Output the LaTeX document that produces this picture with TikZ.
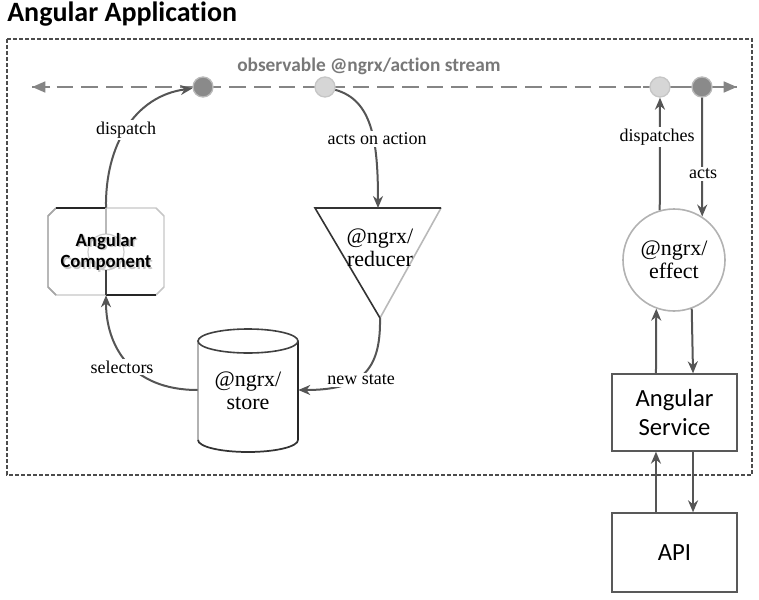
\documentclass[tikz,border=0pt]{standalone}
\usepackage{fontspec}
\setmainfont{Liberation Serif}
\newfontfamily\calfont[Ligatures=NoCommon]{Carlito}
\usetikzlibrary{arrows.meta}
\definecolor{arrowgray}{HTML}{555555}
\definecolor{streamgray}{HTML}{858585}
\definecolor{darkdot}{HTML}{8A8A8A}
\definecolor{lightdot}{HTML}{D6D6D6}
\begin{document}
\begin{tikzpicture}[x=0.75pt,y=-0.75pt,
  conn/.style={draw=arrowgray, line width=1.5pt, -{Stealth[length=9pt,width=7.5pt]}},
  elabel/.style={fill=white, inner sep=1.5pt, font=\fontsize{13.5}{15}\selectfont},
  nlabel/.style={align=center, font=\fontsize{16.5}{17.5}\selectfont},
  sanslabel/.style={align=center, font=\calfont\fontsize{18.5}{22}\selectfont},
  box/.style={draw=black!65, line width=1pt, minimum width=93.75pt, fill=white},
  dkdot/.style={circle, draw=gray!55, line width=1pt, fill=darkdot, minimum size=15pt, inner sep=0pt},
  ltdot/.style={circle, draw=gray!45, line width=1pt, fill=lightdot, minimum size=15pt, inner sep=0pt},
  stream/.style={draw=streamgray, line width=2pt},
  container/.style={draw=black!70, line width=1.2pt, dash pattern=on 3pt off 1.5pt}
]
\useasboundingbox (0,0) rectangle (759,599);

% title
\node[anchor=west, inner sep=0pt, font=\calfont\bfseries\fontsize{21}{25}\selectfont] (title) at (7,14.5) {Angular Applicat\kern0pt ion};

% container
\draw[container] (7,39) rectangle (752,475);

% stream
\coordinate (sL) at (32,87);
\coordinate (sR) at (737,87);
\draw[stream, dash pattern=on 12.5pt off 6pt] (sL) -- (sR);
\node[streamgray!90!black, anchor=center, inner sep=0pt, font=\calfont\bfseries\fontsize{14.5}{17}\selectfont] (slbl) at (369,66) {observable @ngrx/act\kern0pt ion stream};

\draw[stream] (186,87) -- (220,87);
\draw[stream] (308,87) -- (342,87);
\draw[stream] (643,87) -- (677,87);
\draw[stream] (685,87) -- (719,87);
\draw[stream, -{Triangle[length=10pt,width=8pt]}] (50,87) -- (sL);
\draw[stream, -{Triangle[length=10pt,width=8pt]}] (715,87) -- (sR);

\node[dkdot] (c1) at (203,87) {};
\node[ltdot] (c2) at (325,87) {};
\node[ltdot] (c3) at (660,87) {};
\node[dkdot] (c4) at (702,87) {};

% Angular component
\node[minimum width=87pt, minimum height=65.25pt, inner sep=0pt] (comp) at (106,251.5) {};
\draw[gray!45, line width=1.1pt] (56,208) -- (156,208) -- (164,216) -- (164,287) -- (156,295) -- (56,295) -- (48,287) -- (48,216) -- cycle;
\draw[gray!70, line width=1.1pt] (56,295) -- (48,287) -- (48,216) -- (56,208);
\draw[black!85, line width=1.3pt] (106,208) -- (56,208);
\draw[black!85, line width=1.3pt] (106,295) -- (156,295);
\draw[gray!40, line width=0.9pt] (106,252) circle [radius=13.5pt];
\coordinate (compcN) at (106,234);
\coordinate (compcS) at (106,270);
\draw[gray!55, line width=1.1pt] (comp.north) -- (compcN);
\draw[black!75, line width=1.3pt] (compcS) -- (comp.south);
\node[align=center, text=gray!45, font=\calfont\bfseries\fontsize{14}{16}\selectfont] (compshadow) at (107.5,253.5) {Angular\\Component};
\node[align=center, font=\calfont\bfseries\fontsize{14}{16}\selectfont] (comptext) at (106,252) {Angular\\Component};

% store cylinder
\node[minimum width=75pt, minimum height=93pt, inner sep=0pt] (store) at (248,390) {};
\draw[gray!60, line width=1.2pt] (198,341) -- (198,440);
\draw[black!85, line width=1.3pt] (298,341) -- (298,440);
\draw[black!75, line width=1.2pt] (248,341) ellipse [x radius=37.5pt, y radius=9pt];
\draw[black!80, line width=1.3pt] (198,440) arc[start angle=180, end angle=360, x radius=37.5pt, y radius=9pt];
\node[nlabel] (storetext) at (248,391) {@ngrx/\\store};

% reducer triangle
\coordinate (redL) at (315,208);
\coordinate (redR) at (441,208);
\coordinate (redtop) at (378,208);
\coordinate (redapex) at (380,318);
\draw[gray!55, line width=1.2pt] (redR) -- (redapex);
\draw[black!80, line width=1.2pt] (redapex) -- (redL) -- (redR);
\node[nlabel] (redtext) at (380,248) {@ngrx/\\reducer};

% effect
\node[circle, draw=gray!60, line width=1.2pt, minimum size=76.5pt, inner sep=0pt] (effect) at (674,260) {};
\node[nlabel] (efftext) at (674,260) {@ngrx/\\effect};

% service and API
\node[box, minimum height=57.75pt] (svc) at (674.5,412.5) {};
\node[sanslabel] (svctext) at (674.5,412.5) {Angular\\Service};
\node[box, minimum height=59.25pt] (api) at (674.5,552.5) {};
\node[sanslabel] (apitext) at (674.5,552.5) {API};

% connectors
\draw[conn] (comp.north) .. controls (105,145) and (135,96) .. (c1);
\node[elabel] (ldispatch) at (126,130) {dispatch};

\draw[conn] (c2) .. controls (372,100) and (378,140) .. (redtop);
\node[elabel] (lacts) at (377,139) {acts on action};

\draw[conn] (redapex) .. controls (381,372) and (360,390) .. (store.east);
\node[elabel] (lnew) at (361,380) {new state};

\draw[conn] (store.west) .. controls (130,390) and (106,345) .. (comp.south);
\node[elabel] (lsel) at (122,367) {selectors};

\draw[conn] (effect.106) -- (c3.south);
\node[elabel] (ldisp2) at (657,137) {dispatches};
\draw[conn] (c4.south) -- (effect.57);
\node[elabel] (lacts2) at (703,174) {acts};

\draw[conn] ([xshift=-13.9pt]svc.north) -- (effect.250);
\draw[conn] (effect.290) -- ([xshift=13.9pt]svc.north);
\draw[conn] ([xshift=-13.9pt]api.north) -- ([xshift=-13.9pt]svc.south);
\draw[conn] ([xshift=13.9pt]svc.south) -- ([xshift=13.9pt]api.north);
\end{tikzpicture}
\end{document}
